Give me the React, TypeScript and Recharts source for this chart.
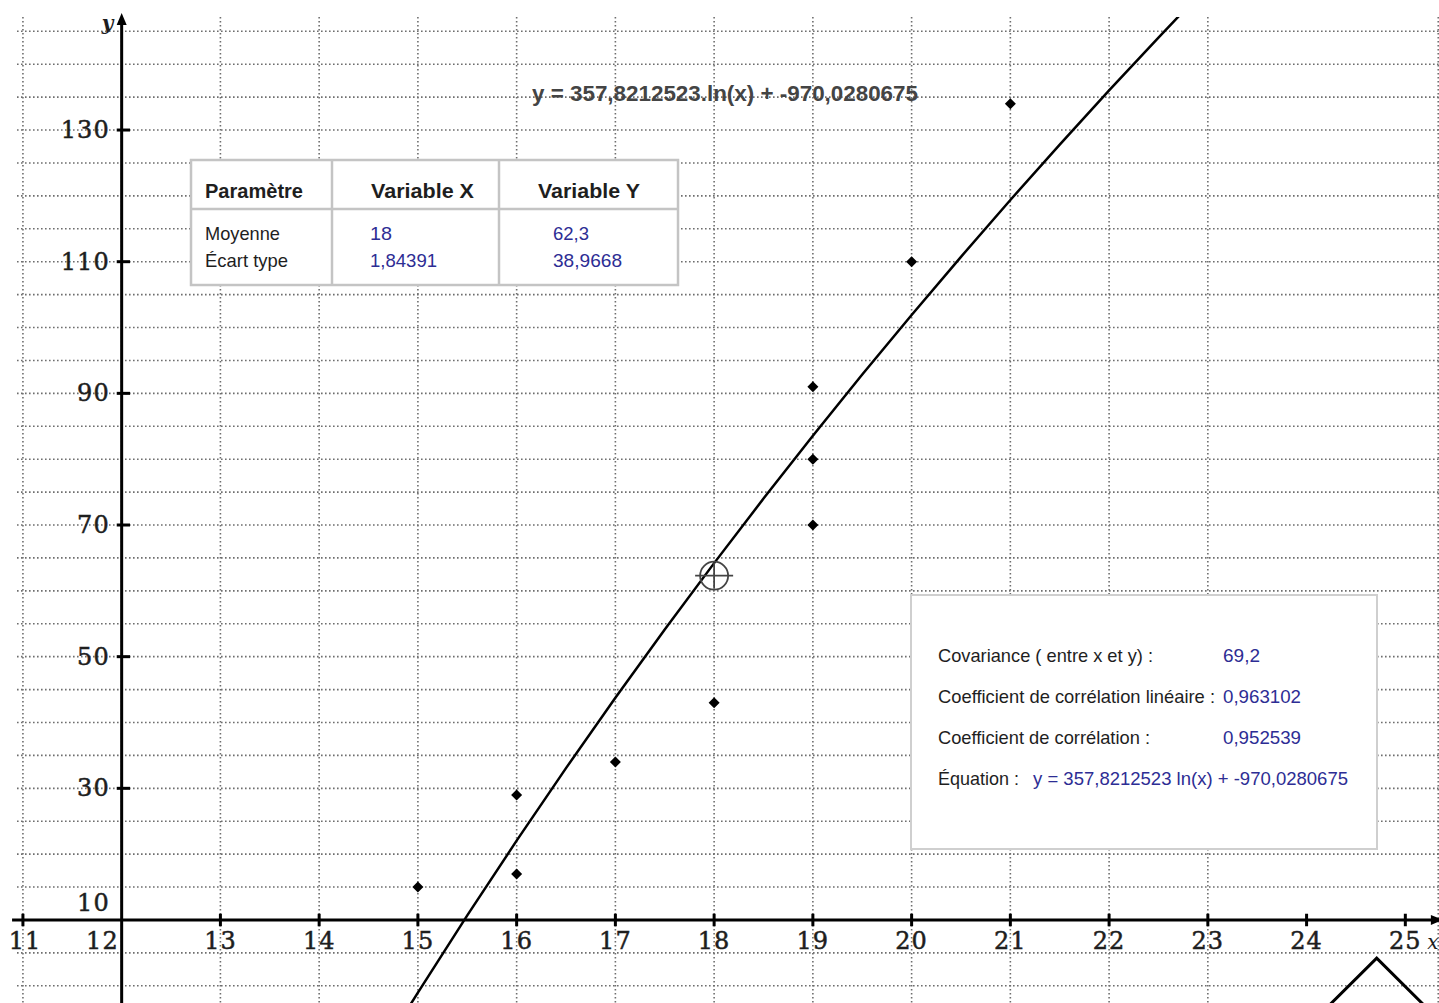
import React from "react";
import {
  ComposedChart,
  XAxis,
  YAxis,
  CartesianGrid,
  Line,
  Scatter,
  ReferenceLine,
  ReferenceDot,
} from "recharts";

const W = 1439;
const H = 1003;

// observed pairs
const xValues = [15, 16, 16, 17, 18, 19, 19, 19, 20, 21];
const yValues = [15, 17, 29, 34, 43, 70, 80, 91, 110, 134];

// mean point (circled cross)
const meanX = [18];
const meanY = [62.3];

// fitted log curve
const curveX = [14.9, 15, 15.5, 16, 16.5, 17, 17.5, 18, 18.5, 19, 19.5, 20, 20.5, 21, 21.5, 22, 22.5, 23];
const curveY = [-3.42, -1.03, 10.7, 22.06, 33.07, 43.76, 54.13, 64.21, 74.01, 83.56, 92.85, 101.91, 110.74, 119.37, 127.79, 136.01, 144.05, 151.92];

// mouse pointer chevron bottom right
const pointerX = [24.24, 24.71, 25.18];
const pointerY = [-2.8, 4.2, -2.8];

const xTickLabels = [11, 12, 13, 14, 15, 16, 17, 18, 19, 20, 21, 22, 23, 24, 25];
const yTickLabels = [10, 30, 50, 70, 90, 110, 130];

const statsHeader = ["Paramètre", "Variable X", "Variable Y"];
const statsRows = [
  ["Moyenne", "18", "62,3"],
  ["Écart type", "1,84391", "38,9668"],
];
const fitLabels = [
  "Covariance ( entre x et y) :",
  "Coefficient de corrélation linéaire :",
  "Coefficient de corrélation :",
  "Équation :",
];
const fitValues = ["69,2", "0,963102", "0,952539", "y = 357,8212523 ln(x) + -970,0280675"];
const curveTitle = "y = 357,8212523.ln(x) + -970,0280675";

const points = xValues.map((x, i) => ({ x, y: yValues[i] }));
const meanPoint = meanX.map((x, i) => ({ x, y: meanY[i] }));
const curve = curveX.map((x, i) => ({ x, y: curveY[i] }));
const pointer = pointerX.map((x, i) => ({ x, y: pointerY[i] }));

// grid every 1/3 on x, every 5 on y
const gridX = Array.from({ length: 44 }, (_, i) => 11 + i / 3);
const gridY = Array.from({ length: 30 }, (_, i) => i * 5);

const X_DOMAIN: [number, number] = [10.94, 25.341];
const Y_DOMAIN: [number, number] = [-2.61, 147.17];

const SERIF = "'DejaVu Serif', serif";
const SANS = "'Liberation Sans', Arial, sans-serif";
const BLUE = "#2d2d94";
const INK = "#1e1e1e";

const Diamond = (props: any) => {
  const { cx, cy } = props;
  const r = 5.5;
  return <polygon points={`${cx},${cy - r} ${cx + r},${cy} ${cx},${cy + r} ${cx - r},${cy}`} fill="#000" />;
};

const MeanMark = (props: any) => {
  const { cx, cy } = props;
  return (
    <g stroke="#444" strokeWidth={1.8} fill="none">
      <circle cx={cx} cy={cy} r={14} />
      <line x1={cx - 19} y1={cy} x2={cx + 19} y2={cy} />
      <line x1={cx} y1={cy - 13} x2={cx} y2={cy + 13} />
    </g>
  );
};

function Txt({ x, y, w, text, size = 19, bold = false, fill = INK }: any) {
  return (
    <text
      x={x}
      y={y}
      textLength={w}
      lengthAdjust="spacingAndGlyphs"
      fontSize={size}
      fontWeight={bold ? 700 : 400}
      fill={fill}
      fontFamily={SANS}
      dominantBaseline="central"
    >
      {text}
    </text>
  );
}

function Overlay() {
  const headX = [205, 371, 538];
  const headW = [98, 103, 102];
  const colX = [205, 370, 553];
  const rowY = [233, 260];
  const rowW = [
    [75, 22, 36],
    [83, 67, 69],
  ];
  const fitY = [655, 696, 737, 778];
  const fitLabelW = [215, 277, 212, 81];
  const fitValX = [1223, 1223, 1223, 1033];
  const fitValW = [37, 78, 78, 315];
  return (
    <svg width={W} height={H} style={{ position: "absolute", left: 0, top: 0, pointerEvents: "none" }}>
      <Txt x={532} y={93} w={386} text={curveTitle} size={22} bold fill="#444" />

      <rect x={191} y={160} width={487} height={125} fill="#fff" stroke="#c4c4c4" strokeWidth={2.5} />
      <line x1={191} y1={209} x2={678} y2={209} stroke="#c4c4c4" strokeWidth={2.5} />
      <line x1={332} y1={160} x2={332} y2={285} stroke="#c4c4c4" strokeWidth={2.5} />
      <line x1={499} y1={160} x2={499} y2={285} stroke="#c4c4c4" strokeWidth={2.5} />
      {statsHeader.map((t, i) => (
        <Txt key={t} x={headX[i]} y={191} w={headW[i]} text={t} size={20} bold />
      ))}
      {statsRows.map((row, r) =>
        row.map((t, c) => (
          <Txt key={`${r}-${c}`} x={colX[c]} y={rowY[r]} w={rowW[r][c]} text={t} fill={c === 0 ? INK : BLUE} />
        ))
      )}

      <rect x={911} y={595} width={466} height={254} fill="#fff" stroke="#cfcfcf" strokeWidth={2} />
      {fitLabels.map((t, i) => (
        <Txt key={t} x={938} y={fitY[i]} w={fitLabelW[i]} text={t} />
      ))}
      {fitValues.map((t, i) => (
        <Txt key={t} x={fitValX[i]} y={fitY[i]} w={fitValW[i]} text={t} fill={BLUE} />
      ))}
    </svg>
  );
}

const labelStyle = {
  fontFamily: SERIF,
  fontSize: 24,
  letterSpacing: 1,
  fill: INK,
  stroke: INK,
  strokeWidth: 0.5,
};

export default function App() {
  return (
    <div style={{ position: "absolute", left: 0, top: 0, width: W, height: H, background: "#fff", overflow: "hidden" }}>
      <ComposedChart width={W} height={H} margin={{ top: 17, left: 17, right: 0, bottom: 0 }}>
        <XAxis dataKey="x" type="number" domain={X_DOMAIN} ticks={gridX} allowDataOverflow hide />
        <YAxis dataKey="y" type="number" domain={Y_DOMAIN} ticks={gridY} allowDataOverflow hide />
        <CartesianGrid
          verticalValues={gridX}
          horizontalValues={gridY}
          stroke="#6e6e6e"
          strokeWidth={1.6}
          strokeDasharray="1.6 2.4"
        />

        {/* axes */}
        <ReferenceLine segment={[{ x: 10.89, y: 10 }, { x: 25.5, y: 10 }]} stroke="#000" strokeWidth={3} ifOverflow="visible" />
        <ReferenceLine segment={[{ x: 12, y: -3 }, { x: 12, y: 146.5 }]} stroke="#000" strokeWidth={3} ifOverflow="visible" />
        <ReferenceDot
          x={12}
          y={147.78}
          ifOverflow="visible"
          shape={(p: any) => (
            <g>
              <polygon points={`${p.cx},${p.cy} ${p.cx - 5},${p.cy + 12} ${p.cx + 5},${p.cy + 12}`} fill="#000" />
              <text x={p.cx - 14} y={p.cy + 17} fontFamily={SERIF} fontStyle="italic" fontWeight={700} fontSize={20} fill={INK} textAnchor="middle">
                y
              </text>
            </g>
          )}
        />
        <ReferenceDot
          x={25.34}
          y={10}
          ifOverflow="visible"
          shape={(p: any) => (
            <g>
              <polygon points={`${p.cx + 4},${p.cy} ${p.cx - 8},${p.cy - 5} ${p.cx - 8},${p.cy + 5}`} fill="#000" />
              <text x={p.cx - 6} y={p.cy + 22} fontFamily={SERIF} fontStyle="italic" fontSize={20} fill={INK} textAnchor="middle" dominantBaseline="central">
                x
              </text>
            </g>
          )}
        />

        {/* tick marks and labels */}
        {xTickLabels
          .filter((v) => v !== 12)
          .map((v) => (
            <ReferenceLine key={`xt${v}`} segment={[{ x: v, y: 9.05 }, { x: v, y: 10.95 }]} stroke="#000" strokeWidth={3} />
          ))}
        {yTickLabels
          .filter((v) => v !== 10)
          .map((v) => (
            <ReferenceLine key={`yt${v}`} segment={[{ x: 11.95, y: v }, { x: 12.085, y: v }]} stroke="#000" strokeWidth={3} />
          ))}
        {xTickLabels.map((v) => (
          <ReferenceDot
            key={`xl${v}`}
            x={v}
            y={10}
            ifOverflow="visible"
            shape={(p: any) => (
              <text
                x={v === 12 ? p.cx - 3 : v === 11 ? p.cx + 2 : p.cx}
                y={p.cy + 21}
                textAnchor={v === 12 ? "end" : "middle"}
                dominantBaseline="central"
                {...labelStyle}
              >
                {v}
              </text>
            )}
          />
        ))}
        {yTickLabels.map((v) => (
          <ReferenceDot
            key={`yl${v}`}
            x={12}
            y={v}
            ifOverflow="visible"
            shape={(p: any) => (
              <text
                x={p.cx - 12}
                y={v === 10 ? p.cy - 17 : p.cy}
                textAnchor="end"
                dominantBaseline="central"
                {...labelStyle}
              >
                {v}
              </text>
            )}
          />
        ))}

        <Line data={curve} dataKey="y" type="monotone" stroke="#000" strokeWidth={2.5} dot={false} isAnimationActive={false} />
        <Line data={pointer} dataKey="y" type="linear" stroke="#000" strokeWidth={3} dot={false} isAnimationActive={false} />
        <Scatter data={points} shape={Diamond} isAnimationActive={false} />
        <Scatter data={meanPoint} shape={MeanMark} isAnimationActive={false} />
      </ComposedChart>
      <Overlay />
    </div>
  );
}
